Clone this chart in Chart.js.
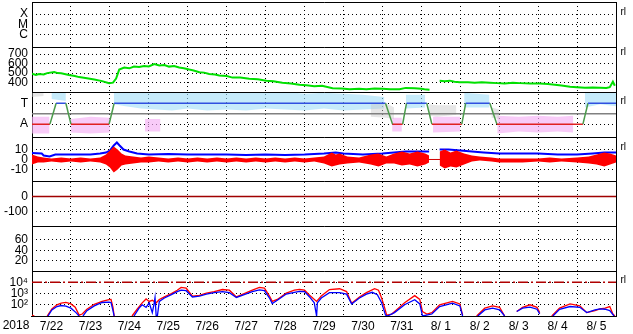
<!DOCTYPE html>
<html>
<head>
<meta charset="utf-8">
<script src="https://cdn.jsdelivr.net/npm/chart.js@4.4.0/dist/chart.umd.min.js"></script>
<style>
html, body { margin: 0; padding: 0; background: #fff; }
</style>
</head>
<body>
<canvas id="mycanvas" width="633" height="334"></canvas>
<script>
// x is in days since 7/22 00:00
var dayLabels = ['7/22','7/23','7/24','7/25','7/26','7/27','7/28','7/29','7/30','7/31','8/ 1','8/ 2','8/ 3','8/ 4','8/ 5'];
var yearLabel = '2018';
var xrayNames = {1: 'C', 2: 'M', 3: 'X'};
var sectorNames = {1: 'T', '-1': 'A'};
var fluxNames = {100: '10\u00b2', 1000: '10\u00b3', 10000: '10\u2074'};

// solar wind speed
var speed = [[0,495],[0.1,480],[0.18,490],[0.3,485],[0.39,500],[0.57,512],[0.66,500],[0.75,498],[0.95,480],[1.1,470],
  [1.21,458],[1.41,447],[1.6,432],[1.8,416],[1.98,395],[2.08,400],[2.16,442],[2.24,537],[2.37,558],[2.5,550],
  [2.62,568],[2.75,565],[2.88,574],[3.0,570],[3.14,595],[3.27,579],[3.4,585],[3.52,568],[3.65,575],[3.78,558],
  [3.9,550],[4.04,537],[4.15,528],[4.3,510],[4.42,505],[4.55,490],[4.7,485],[4.81,474],[5.0,470],[5.15,453],
  [5.35,455],[5.58,442],[5.8,435],[6.02,421],[6.2,415],[6.43,400],[6.65,392],[6.87,379],[7.05,372],[7.25,363],
  [7.45,368],[7.72,342],[7.95,338],[8.16,331],[8.4,335],[8.59,331],[8.8,338],[9.0,337],[9.2,330],[9.44,331],
  [9.6,345],[9.83,342],[10.0,335],[10.08,331],[10.21,326],[10.3,null],
  [10.47,421],[10.6,415],[10.73,421],[10.85,410],[10.99,405],[11.2,405],[11.37,400],[11.55,405],[11.76,400],
  [11.95,395],[12.14,390],[12.35,398],[12.53,395],[12.8,392],[13.04,390],[13.25,385],[13.43,379],[13.6,370],
  [13.82,358],[14.0,352],[14.2,347],[14.4,350],[14.59,347],[14.75,345],[14.84,353],[14.92,410],[14.97,368]];

// IMF sector: 1 = toward, -1 = away
var sector = [[0,-1],[0.46,-1],[0.62,1],[0.87,1],[1.0,-1],[1.98,-1],[2.11,1],[9.08,1],[9.26,-1],[9.52,-1],[9.62,1],
  [10.14,1],[10.27,-1],[11.04,-1],[11.14,1],[11.76,1],[11.94,-1],[14.15,-1],[14.28,1],[15,1]];

// phi angle scatter, as hi/lo envelopes
var towardDays = [0.5,0.87,0.9,2.1,2.4,2.8,3.2,3.6,4.0,4.5,5.0,5.5,6.0,6.5,7.0,7.5,8.0,8.5,9.05,9.1,9.6,10.1,10.15,11.1,11.75,11.8,14.2,14.6,15];
var towardHi =   [2.0,2.0,null,2.0,2.1,2.0,2.1,2.1,2.0,2.1,2.1,2.0,2.0,2.1,1.9,2.0,1.9,1.8,1.6,null,1.8,1.8,null,2.0,1.8,null,2.1,2.0,2.1];
var towardLo =   [1.4,1.2,null,0.9,0.7,0.5,0.4,0.3,0.5,0.3,0.4,0.3,0.5,0.4,0.3,0.5,0.3,0.4,0.5,null,0.5,0.6,null,0.6,0.6,null,0.6,0.9,0.7];
var awayDays = [0,0.45,0.5,1.0,1.5,2.0,2.05,2.9,3.3,3.35,9.25,9.5,9.55,10.3,11.0,11.05,11.95,12.5,13.0,13.5,13.9];
var awayHi =   [-0.3,-0.3,null,-0.5,-0.3,-0.4,null,-0.5,-0.5,null,-0.4,-0.4,null,-0.3,-0.3,null,-0.2,-0.3,-0.2,-0.3,-0.2];
var awayLo =   [-1.9,-1.9,null,-1.8,-1.9,-1.8,null,-1.7,-1.7,null,-1.7,-1.7,null,-1.8,-1.7,null,-1.9,-1.7,-1.8,-1.7,-1.8];
var grayDays = [0,0.3,0.35,8.7,9.1,9.3,9.35,10.2,10.4,10.9,10.95,11.8,12.0,12.05];
var grayHi =   [2.1,2.0,null,0.9,1.0,0.6,null,0.9,0.8,0.8,null,0.6,0.4,null];
var grayLo =   [1.6,1.7,null,-0.3,-0.4,-0.5,null,-0.2,-0.3,-0.1,null,-0.4,-0.5,null];

// IMF: Bt and Bz envelope (nT)
var bt = [[0,6.5],[0.25,6],[0.3,4],[0.45,3],[0.6,5],[1.0,5],[1.5,5],[1.75,6],[1.9,7],[2.0,9],[2.1,14],[2.18,17],
  [2.25,14],[2.35,10],[2.5,8],[2.7,6],[3.0,5],[3.5,5.5],[4.0,5],[4.5,5],[5.0,5],[5.5,4.5],[6.0,5],[6.5,4.5],[7.0,5],
  [7.5,6],[7.8,7],[8.0,6],[8.5,5],[9.0,6],[9.3,7],[9.6,8],[10.0,8],[10.2,8],[10.3,null],[10.47,10],[10.7,10],[11.0,9],
  [11.3,8],[11.6,7],[12.0,6],[12.5,6],[13.0,6],[13.5,5],[14.0,5],[14.4,6],[14.7,7],[15,7]];
var bzDays = [0,0.15,0.3,0.5,0.75,1.0,1.25,1.5,1.75,1.9,2.0,2.1,2.2,2.3,2.4,2.6,2.8,3.0,3.25,3.5,3.75,4.0,4.25,4.5,
  4.75,5.0,5.25,5.5,5.75,6.0,6.25,6.5,6.75,7.0,7.25,7.5,7.7,7.8,7.9,8.1,8.4,8.7,8.9,9.1,9.3,9.5,9.7,9.9,10.1,10.2,
  10.3,10.47,10.6,10.75,10.9,11.1,11.3,11.5,11.8,12.0,12.3,12.6,13.0,13.3,13.6,14.0,14.3,14.5,14.7,14.85,15];
var bzHi = [5,3,2,1,2,1,2,1,2,5,9,13,10,6,4,3,2,3,2,1,2,1,2,1,2,1,2,1,2,1,2,1,2,1,2,3,7,5,6,3,2,5,6,3,6,8,6,8,6,4,
  null,8,10,7,9,6,4,3,2,1,1,1,1,2,1,2,3,5,7,6,4];
var bzLo = [-5,-3,-3,-2,-3,-2,-3,-2,-3,-5,-8,-13,-10,-6,-5,-4,-3,-3,-2,-3,-2,-3,-2,-3,-2,-3,-2,-3,-2,-3,-2,-3,-2,-3,-2,-4,-7,-6,-5,-4,-3,-5,-7,-4,-4,-6,-5,-7,-5,-3,
  null,-6,-9,-7,-8,-5,-2,-1,-2,-3,-3,-3,-2,-3,-2,-3,-4,-5,-7,-5,-3];

// electron flux (two channels)
var fluxRed = [[0,12],[0.06,10],[0.2,null],[0.39,10],[0.51,43],[0.64,100],[0.75,140],[0.87,162],[1.0,120],[1.11,60],
  [1.21,12],[1.29,15],[1.41,40],[1.6,110],[1.8,200],[1.98,284],[2.03,300],[2.08,60],[2.11,10],[2.3,null],
  [2.57,10],[2.7,40],[2.83,150],[2.93,330],[3.01,200],[3.09,250],[3.19,150],[3.27,300],[3.4,500],[3.58,1000],
  [3.73,2000],[3.83,3500],[3.96,3000],[4.12,600],[4.3,700],[4.48,1100],[4.68,1500],[4.89,2300],[5.07,2000],
  [5.25,500],[5.45,1000],[5.66,2000],[5.84,3500],[5.97,3000],[6.1,600],[6.17,200],[6.3,300],[6.53,1100],
  [6.74,2000],[6.87,2400],[7.0,2000],[7.13,700],[7.31,200],[7.43,600],[7.64,2300],[7.9,2700],[8.08,1500],
  [8.21,140],[8.41,500],[8.59,1200],[8.8,2700],[8.9,2000],[8.98,400],[9.06,50],[9.11,12],[9.24,15],[9.36,35],
  [9.57,150],[9.83,650],[9.96,300],[10.03,25],[10.14,15],[10.27,20],[10.47,100],[10.8,200],[10.99,120],[11.06,12],
  [11.2,null],[11.42,10],[11.63,50],[11.83,81],[12.01,60],[12.14,10],[12.3,null],[12.45,25],[12.6,60],[12.79,100],
  [12.97,60],[13.04,20],[13.2,null],[13.35,10],[13.55,50],[13.82,120],[14.07,80],[14.25,20],[14.46,30],[14.59,43],
  [14.72,50],[14.84,70],[14.92,15],[14.97,10]];
var fluxBlue = [[0.41,10],[0.51,35],[0.64,70],[0.75,86],[0.87,75],[1.0,50],[1.13,20],[1.21,10],[1.25,null],
  [1.31,10],[1.41,30],[1.6,80],[1.8,160],[1.98,170],[2.03,160],[2.08,30],[2.11,10],[2.3,null],
  [2.62,10],[2.75,50],[2.83,100],[2.93,60],[3.01,150],[3.09,20],[3.14,150],[3.16,450],[3.19,10],[3.22,10],
  [3.27,200],[3.4,400],[3.58,800],[3.73,1500],[3.83,2000],[3.96,1800],[4.12,500],[4.3,600],[4.48,900],[4.68,1200],
  [4.89,1500],[5.07,1200],[5.25,450],[5.45,800],[5.66,1500],[5.84,2100],[5.97,1800],[6.1,400],[6.17,130],[6.3,250],
  [6.53,900],[6.74,1300],[6.87,1600],[7.0,1500],[7.13,500],[7.25,150],[7.31,10],[7.33,150],[7.43,400],[7.64,1200],
  [7.9,1200],[8.08,900],[8.21,120],[8.41,400],[8.59,900],[8.74,1300],[8.87,800],[8.98,150],[9.08,12],[9.13,10],
  [9.31,20],[9.57,100],[9.83,280],[9.96,120],[10.03,10],[10.27,15],[10.47,70],[10.8,142],[10.99,80],[11.06,10],
  [11.2,null],[11.45,10],[11.63,35],[11.83,50],[12.01,35],[12.14,10],[12.3,null],[12.45,25],[12.6,50],[12.79,62],
  [12.97,40],[13.04,15],[13.2,null],[13.38,10],[13.55,40],[13.82,70],[14.07,60],[14.25,20],[14.46,35],[14.59,43],
  [14.72,40],[14.84,30],[14.95,10]];
var fluxAlert = 10000;

function pts(arr) {
  return arr.map(function(p) { return {x: p[0], y: p[1]}; });
}
function zip(xs, ys) {
  return xs.map(function(x, i) { return {x: x, y: ys[i]}; });
}
function flat(v) {
  return [{x: 0, y: v}, {x: 15, y: v}];
}

var dotted = [1, 3];
function panel(min, max, ticks, label, extra) {
  var o = {
    type: 'linear', position: 'left', stack: 'panels', stackWeight: 1,
    min: min, max: max,
    afterFit: function(s) { s.width = 32; s.paddingTop = 0; s.paddingBottom = 0; },
    afterBuildTicks: function(s) { s.ticks = ticks.map(function(v) { return {value: v}; }); },
    ticks: { padding: 4, autoSkip: false, color: '#000', font: {size: 12}, callback: label },
    grid: { color: '#000', drawTicks: false, lineWidth: 1 },
    border: { color: '#000', width: 1, dash: dotted }
  };
  for (var k in extra) o[k] = extra[k];
  return o;
}
function noZero(ctx) {
  return ctx.tick && ctx.tick.value === 0 ? 'rgba(0,0,0,0)' : '#000';
}
function plain(v) { return v; }

var frame = {
  id: 'frame',
  afterDraw: function(chart) {
    var ctx = chart.ctx, a = chart.chartArea;
    ctx.save();
    ctx.strokeStyle = '#000';
    ctx.lineWidth = 1;
    ctx.beginPath();
    ['yXray','ySpeed','ySector','yImf','yDst','yEmpty','yFlux'].forEach(function(id) {
      var y = Math.round(chart.scales[id].top) + 0.5;
      ctx.moveTo(a.left, y); ctx.lineTo(a.right + 0.5, y);
    });
    var r = Math.round(a.right) + 0.5;
    ctx.moveTo(r, a.top); ctx.lineTo(r, a.bottom);
    ctx.stroke();
    ctx.fillStyle = '#000';
    ctx.font = '12px "Liberation Sans", Arial, sans-serif';
    ctx.textAlign = 'center';
    ctx.textBaseline = 'middle';
    ctx.fillText(yearLabel, a.left / 2, chart.scales.x.top + 10);
    ctx.font = '10px "Liberation Sans", Arial, sans-serif';
    ctx.textAlign = 'left';
    [['yXray',3],['ySpeed',700],['ySector',1],['yImf',10],['yFlux',fluxAlert]].forEach(function(m) {
      ctx.fillText('rl', r + 4, chart.scales[m[0]].getPixelForValue(m[1]) - 2);
    });
    ctx.restore();
  }
};

Chart.defaults.font.family = '"Liberation Sans", Arial, sans-serif';
Chart.defaults.font.size = 12;
Chart.defaults.color = '#000';

var none = 'rgba(0,0,0,0)';
var ctx = document.getElementById('mycanvas');
var chart = new Chart(ctx, {
  type: 'line',
  data: {
    datasets: [
      // panel 2
      { yAxisID: 'ySpeed', data: pts(speed), borderColor: '#00e000', borderWidth: 2, order: 1 },
      // panel 3
      { yAxisID: 'ySector', data: pts(sector), borderWidth: 1.5, order: 1,
        segment: { borderColor: function(c) {
          if (c.p0.parsed.y === 1 && c.p1.parsed.y === 1) return '#3050e0';
          if (c.p0.parsed.y === -1 && c.p1.parsed.y === -1) return '#e02020';
          return '#4a9a4a';
        } } },
      { yAxisID: 'ySector', data: flat(0), borderColor: '#808080', borderWidth: 1.5, order: 2 },
      { yAxisID: 'ySector', data: zip(towardDays, towardHi), borderWidth: 0, borderColor: none, order: 6 },
      { yAxisID: 'ySector', data: zip(towardDays, towardLo), borderWidth: 0, borderColor: none, fill: '-1', backgroundColor: 'rgba(160,222,248,0.6)', order: 6 },
      { yAxisID: 'ySector', data: zip(awayDays, awayHi), borderWidth: 0, borderColor: none, order: 6 },
      { yAxisID: 'ySector', data: zip(awayDays, awayLo), borderWidth: 0, borderColor: none, fill: '-1', backgroundColor: 'rgba(245,175,245,0.65)', order: 6 },
      { yAxisID: 'ySector', data: zip(grayDays, grayHi), borderWidth: 0, borderColor: none, order: 5 },
      { yAxisID: 'ySector', data: zip(grayDays, grayLo), borderWidth: 0, borderColor: none, fill: '-1', backgroundColor: 'rgba(200,200,200,0.45)', order: 5 },
      // panel 4
      { yAxisID: 'yImf', data: flat(0), borderColor: '#d00000', borderWidth: 1, order: 4 },
      { yAxisID: 'yImf', data: pts(bt), borderColor: '#0000ff', borderWidth: 2, order: 3 },
      { yAxisID: 'yImf', data: zip(bzDays, bzHi), borderColor: none, borderWidth: 0, order: 2 },
      { yAxisID: 'yImf', data: zip(bzDays, bzLo), borderColor: none, borderWidth: 0, fill: '-1', backgroundColor: '#ff0000', order: 2 },
      // panel 5
      { yAxisID: 'yDst', data: flat(0), borderColor: '#a00000', borderWidth: 1.5, order: 2 },
      // panel 7
      { yAxisID: 'yFlux', data: flat(fluxAlert), borderColor: '#b00000', borderWidth: 1.5, borderDash: [10, 3, 2, 3], order: 3 },
      { yAxisID: 'yFlux', data: pts(fluxRed), borderColor: '#ff0000', borderWidth: 1.3, order: 2 },
      { yAxisID: 'yFlux', data: pts(fluxBlue), borderColor: '#0000ff', borderWidth: 1.3, order: 1 }
    ]
  },
  options: {
    responsive: false,
    animation: false,
    devicePixelRatio: 1,
    layout: { padding: { top: 2, right: 17, left: 0, bottom: 0 } },
    elements: { point: { radius: 0 }, line: { tension: 0, fill: false } },
    plugins: { legend: { display: false }, tooltip: { enabled: false } },
    scales: {
      x: {
        type: 'linear', position: 'bottom', min: 0, max: 15,
        afterFit: function(s) { s.height = 18; s.paddingLeft = 0; s.paddingRight = 0; },
        ticks: {
          stepSize: 0.5, autoSkip: false, maxRotation: 0, padding: 3, color: '#000', font: {size: 12},
          callback: function(v) { return Number.isInteger(v) ? '' : dayLabels[Math.floor(v)]; }
        },
        grid: {
          drawTicks: false,
          color: function(c) {
            var v = c.tick ? c.tick.value : 0;
            return (Number.isInteger(v) && v > 0 && v < 15) ? '#000' : none;
          }
        },
        border: { color: '#000', dash: dotted }
      },
      yFlux: panel(10, 100000, [100, 1000, 10000], function(v) { return fluxNames[v]; }, { type: 'logarithmic' }),
      yEmpty: panel(0, 86, [20, 40, 60], plain),
      yDst: panel(-200, 100, [-100, 0], plain, { grid: { color: noZero, drawTicks: false } }),
      yImf: panel(-22, 23, [-10, 0, 10], plain, { grid: { color: noZero, drawTicks: false } }),
      ySector: panel(-2.19, 2.1, [-1, 1], function(v) { return sectorNames[v]; }),
      ySpeed: panel(305, 775, [400, 500, 600, 700], plain),
      yXray: panel(-0.14, 4.15, [1, 2, 3], function(v) { return xrayNames[v]; })
    }
  },
  plugins: [frame]
});
</script>
</body>
</html>
